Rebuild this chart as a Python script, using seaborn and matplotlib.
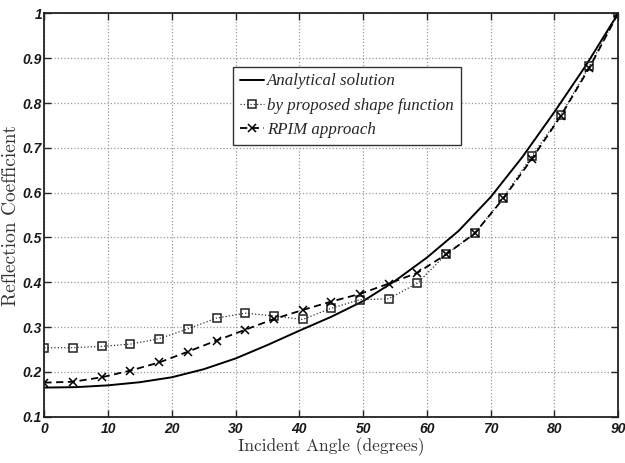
import numpy as np
import pandas as pd
import seaborn as sns
import matplotlib
matplotlib.use("Agg")
import matplotlib.pyplot as plt

# analytical curve, read at 5 degree steps
angle_exact = [0, 5, 10, 15, 20, 25, 30, 35, 40, 45, 50, 55, 60, 65, 70, 75, 80, 85, 90]
refl_exact = [0.165, 0.166, 0.170, 0.177, 0.188, 0.206, 0.230, 0.260, 0.292, 0.323,
              0.358, 0.403, 0.455, 0.515, 0.590, 0.680, 0.780, 0.885, 1.0]

# numerical results, every 4.5 degrees
angle_num = [0, 4.5, 9, 13.5, 18, 22.5, 27, 31.5, 36, 40.5, 45, 49.5, 54, 58.5,
             63, 67.5, 72, 76.5, 81, 85.5, 90]
refl_shape = [0.254, 0.254, 0.257, 0.262, 0.274, 0.296, 0.320, 0.331, 0.325, 0.317,
              0.342, 0.361, 0.363, 0.398, 0.462, 0.509, 0.589, 0.682, 0.773, 0.883, 1.0]
refl_rpim = [0.176, 0.178, 0.188, 0.203, 0.221, 0.245, 0.270, 0.294, 0.318, 0.338,
             0.357, 0.374, 0.397, 0.421, 0.462, 0.509, 0.587, 0.676, 0.771, 0.879, 1.0]

xticks = [0, 10, 20, 30, 40, 50, 60, 70, 80, 90]
yticks = [0.1, 0.2, 0.3, 0.4, 0.5, 0.6, 0.7, 0.8, 0.9, 1]
ytick_labels = ["0.1", "0.2", "0.3", "0.4", "0.5", "0.6", "0.7", "0.8", "0.9", "1"]

sns.set_style("whitegrid")
sns.set_style({"grid.color": "#9a9a9a", "grid.linestyle": ":",
               "axes.edgecolor": "#222222", "xtick.direction": "in",
               "ytick.direction": "in"})

fig = plt.figure(figsize=(6.25, 4.63), dpi=100)
ax = fig.add_axes([0.071, 0.1, 0.918, 0.871])

sns.lineplot(x=angle_exact, y=refl_exact, ax=ax, color="black", linewidth=1.4,
             label="Analytical solution")
sns.lineplot(x=angle_num, y=refl_shape, ax=ax, color="#333333", linewidth=0.9,
             linestyle=":", marker="s", markersize=5.5, markerfacecolor="none",
             markeredgecolor="#222222", markeredgewidth=1.1,
             label="by proposed shape function")
sns.lineplot(x=angle_num, y=refl_rpim, ax=ax, color="black", linewidth=1.3,
             linestyle="--", marker="x", markersize=6,
             markeredgecolor="black", markeredgewidth=1.1, label="RPIM approach")
ax.lines[-1].set_dashes((4, 2.5))

ax.set_xlim(0, 90)
ax.set_ylim(0.1, 1)
ax.set_xticks(xticks)
ax.set_yticks(yticks)
ax.set_yticklabels(ytick_labels)
ax.grid(True, linestyle=":", color="#9a9a9a", linewidth=0.9)
for s in ax.spines.values():
    s.set_linewidth(1.3)
    s.set_color("#222222")
ax.tick_params(axis="both", which="both", direction="in", length=5, width=1.0,
               top=True, right=True, bottom=True, left=True)
ax.tick_params(axis="y", pad=1.5)
ax.tick_params(axis="x", pad=4)
for lab in ax.get_xticklabels() + ax.get_yticklabels():
    lab.set_fontfamily("Liberation Sans")
    lab.set_fontweight("bold")
    lab.set_fontstyle("italic")
    lab.set_fontsize(10)
    lab.set_color("#1a1a1a")

ax.set_xlabel("Incident Angle (degrees)", family="cmr10", fontsize=12.5,
              color="#333333", labelpad=1)
ax.set_ylabel("Reflection Coefficient", family="cmr10", fontsize=14,
              color="#333333")
ax.yaxis.set_label_coords(-0.043, 0.5)

leg = ax.legend(loc="upper left", bbox_to_anchor=(0.329, 0.868), frameon=True,
                fancybox=False, edgecolor="#333333", framealpha=1,
                prop={"family": "Liberation Serif", "style": "italic", "size": 12.2},
                handlelength=1.4, handletextpad=0.2, borderpad=0.4,
                labelspacing=0.5, borderaxespad=0)
leg.get_frame().set_linewidth(1.0)

fig.savefig("out.png", dpi=100)
